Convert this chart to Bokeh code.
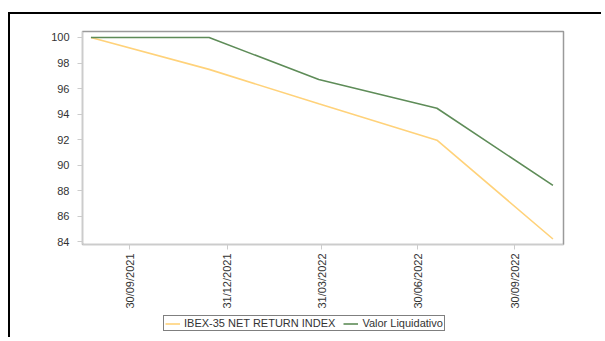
import math
from datetime import datetime
from bokeh.plotting import figure
from bokeh.layouts import column
from bokeh.models import FixedTicker, DatetimeTickFormatter, Range1d, Legend, LegendItem
from bokeh.embed import file_html
from bokeh.resources import INLINE

dates = ["2021-08-24", "2021-12-14", "2022-03-28", "2022-07-18", "2022-11-05"]
ibex = [100.0, 97.5, 94.8, 91.95, 84.2]
valor = [100.0, 100.0, 96.7, 94.45, 88.4]
tick_dates = ["2021-09-30", "2021-12-31", "2022-03-31", "2022-06-30", "2022-09-30"]
y_ticks = [84, 86, 88, 90, 92, 94, 96, 98, 100]
series_names = ["IBEX-35 NET RETURN INDEX", "Valor Liquidativo"]
series_colors = ["#FFD27A", "#5E8C58"]

def ms(s):
    return (datetime.strptime(s, "%Y-%m-%d") - datetime(1970, 1, 1)).total_seconds() * 1000.0

xs = [datetime.strptime(d, "%Y-%m-%d") for d in dates]

p = figure(width=593, height=297, x_axis_type="datetime",
           output_backend="svg", toolbar_location=None,
           min_border_left=72, min_border_right=40, min_border_top=17, min_border_bottom=66,
           styles={"border-left": "2px solid black", "border-top": "2px solid black"})

p.x_range = Range1d(ms("2021-08-16"), ms("2022-11-15"))
p.y_range = Range1d(83.77, 100.47)

p.line(xs, ibex, line_color=series_colors[0], line_width=1.6)
p.line(xs, valor, line_color=series_colors[1], line_width=1.6)

p.xgrid.visible = False
p.ygrid.visible = False
p.outline_line_color = "#9a9a9a"
p.outline_line_width = 1.5

p.xaxis.ticker = FixedTicker(ticks=[ms(t) for t in tick_dates])
p.xaxis.formatter = DatetimeTickFormatter(days="%d/%m/%Y", months="%d/%m/%Y", years="%d/%m/%Y")
p.xaxis.major_label_orientation = math.pi / 2
p.yaxis.ticker = FixedTicker(ticks=y_ticks)

for ax in (p.xaxis, p.yaxis):
    ax.axis_line_color = "#cccccc"
    ax.major_tick_line_color = "#cccccc"
    ax.major_tick_in = 0
    ax.major_tick_out = 5
    ax.minor_tick_line_color = None
    ax.major_label_text_font = "Liberation Sans"
    ax.major_label_text_font_size = "11px"
    ax.major_label_text_color = "#333333"
p.xaxis.major_label_standoff = 4
p.yaxis.major_label_standoff = 8

# legend strip below the chart (series lines drawn outside its visible range)
pl = figure(width=593, height=28, output_backend="svg", toolbar_location=None,
            x_axis_location=None, y_axis_location=None,
            min_border_left=72, min_border_right=40, min_border_top=0, min_border_bottom=0,
            x_range=Range1d(0, 1), y_range=Range1d(0, 1),
            styles={"border-left": "2px solid black"})
pl.outline_line_color = None
pl.xgrid.visible = False
pl.ygrid.visible = False
lr1 = pl.line(xs, ibex, line_color=series_colors[0], line_width=1.6)
lr2 = pl.line(xs, valor, line_color=series_colors[1], line_width=1.6)

legend = Legend(items=[LegendItem(label=series_names[0], renderers=[lr1]),
                       LegendItem(label=series_names[1], renderers=[lr2])],
                orientation="horizontal", location=(81, 6),
                border_line_color="black", border_line_width=1,
                label_text_font="Liberation Sans", label_text_font_size="11px",
                label_text_color="#333333", glyph_width=15, glyph_height=11,
                label_height=11, padding=1, spacing=8, margin=0,
                label_standoff=4, background_fill_alpha=1)
pl.add_layout(legend, "center")

layout = column(p, pl, spacing=0, margin=(12, 0, 0, 8))

open("out.html", "w").write(file_html(layout, INLINE))
